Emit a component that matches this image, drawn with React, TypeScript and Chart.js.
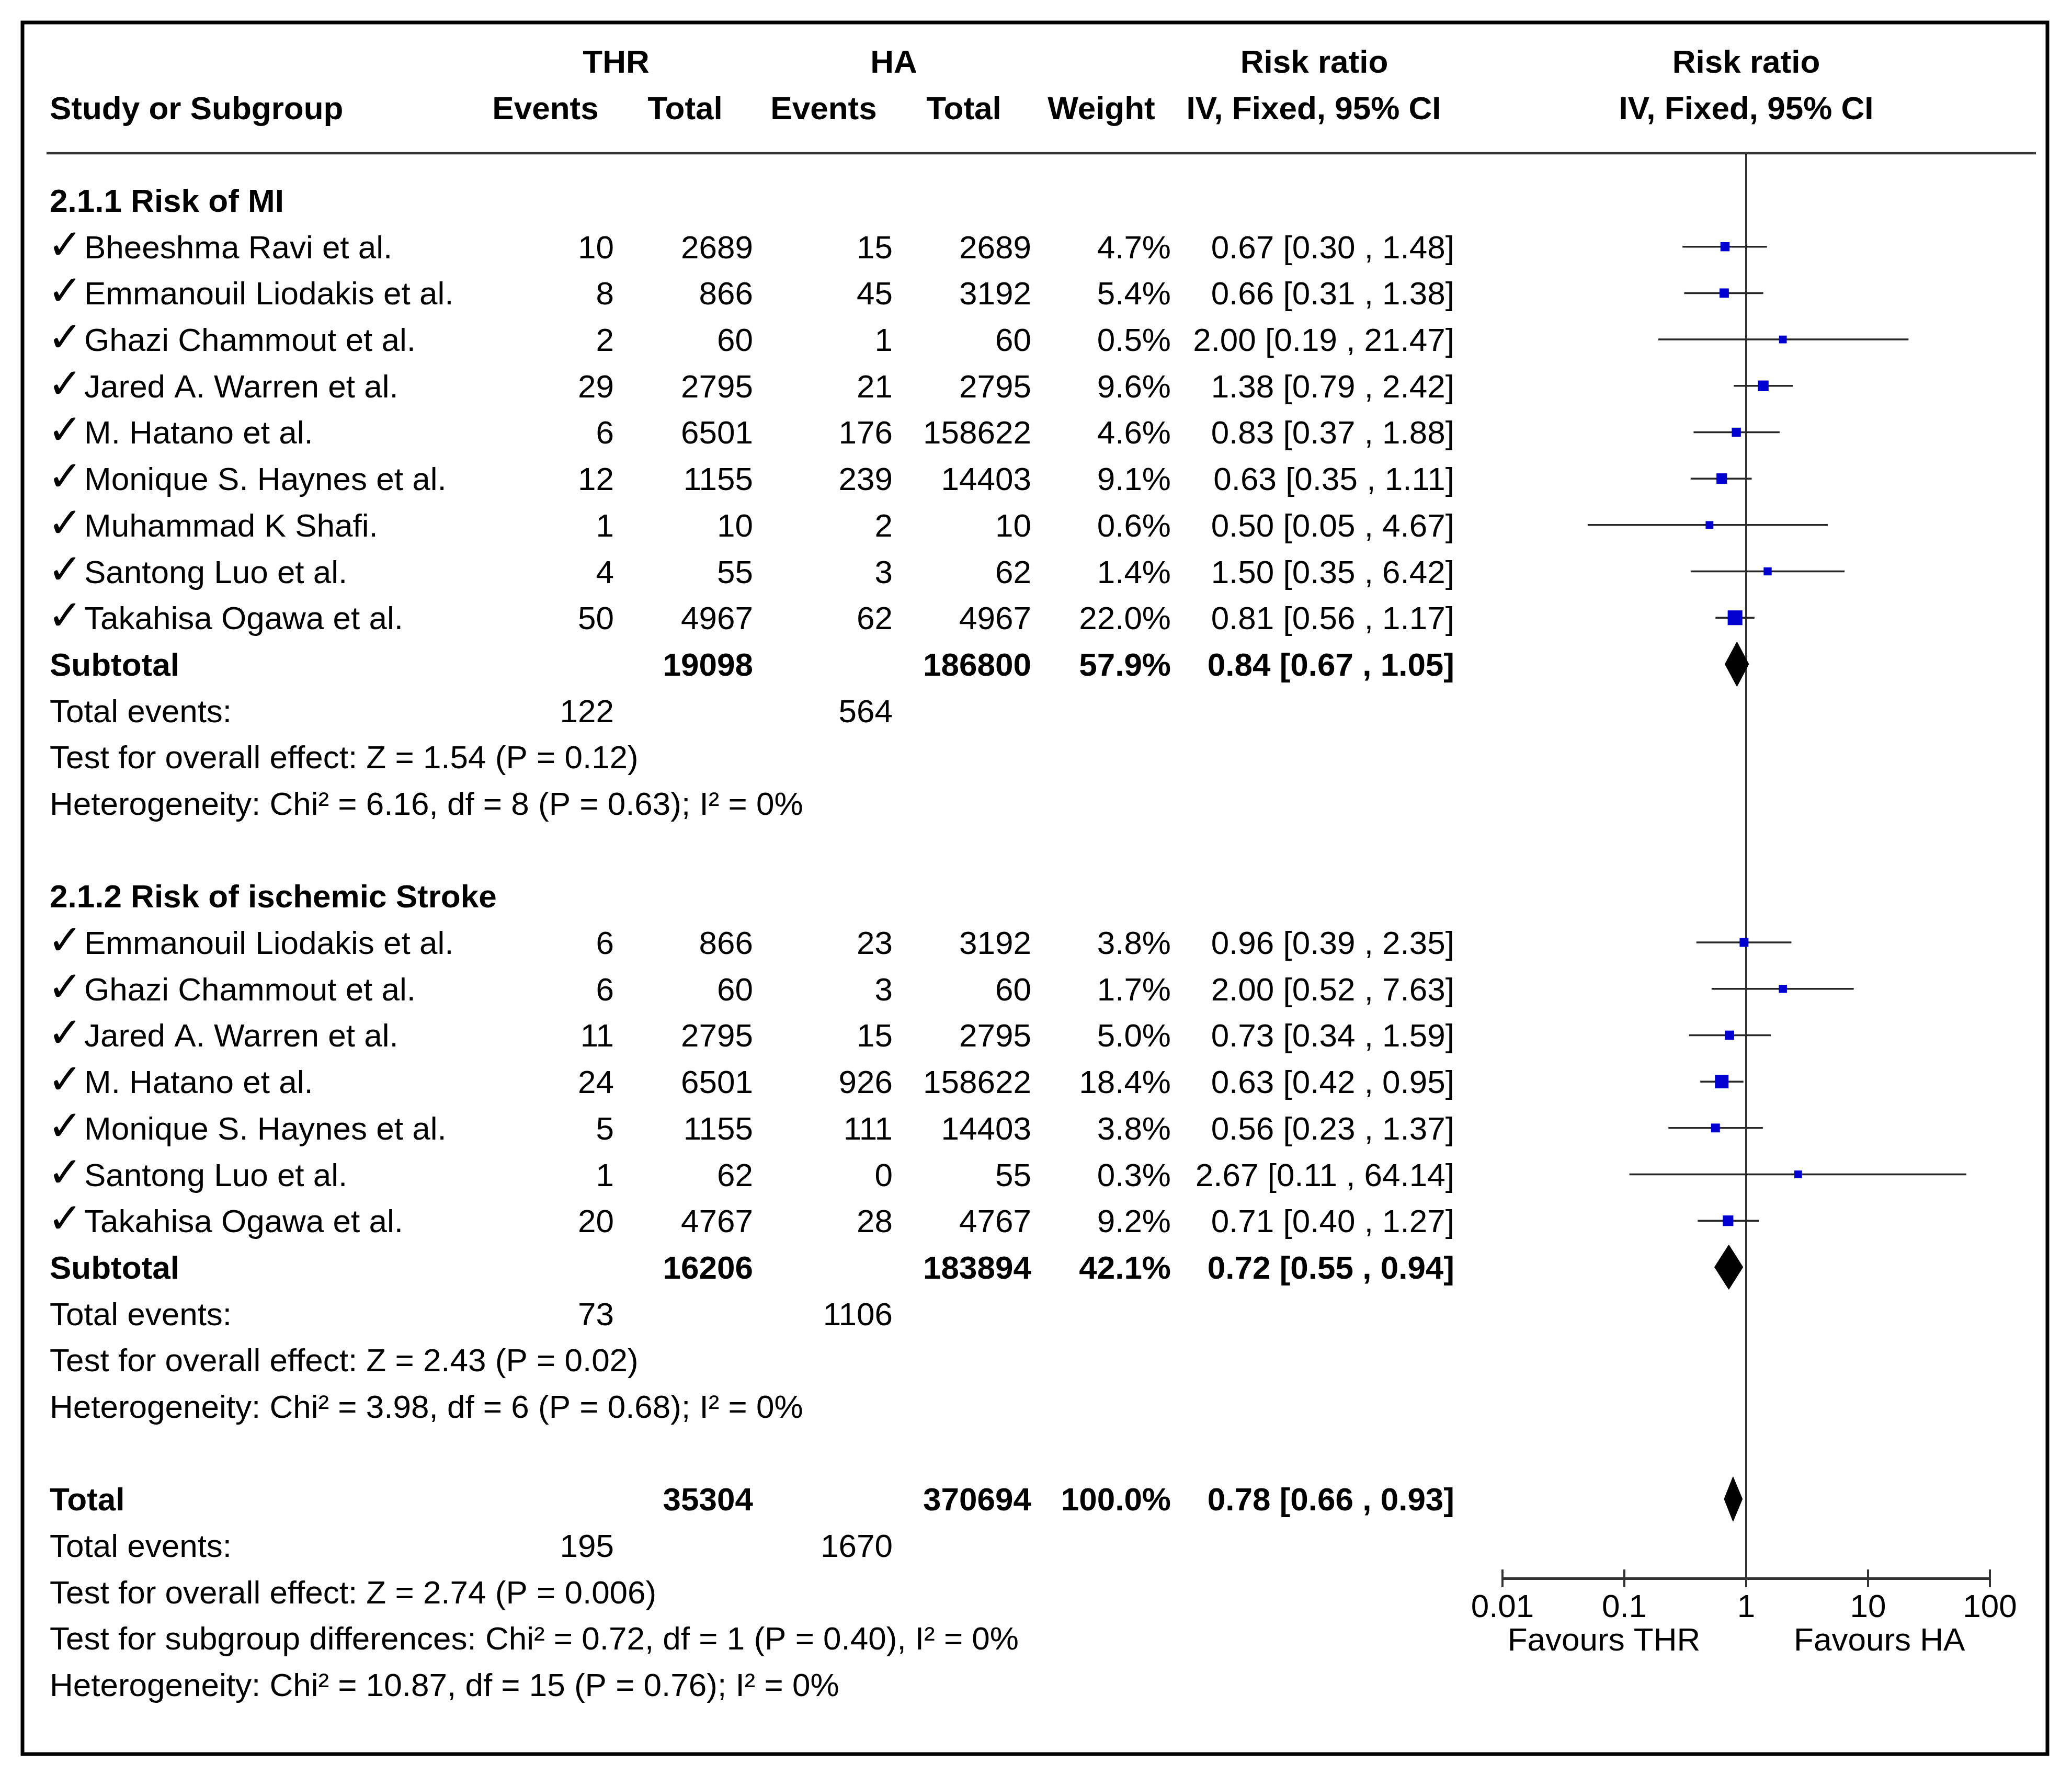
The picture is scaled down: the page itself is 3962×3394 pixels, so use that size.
import React, { useEffect, useRef } from 'react';
import { Chart, registerables } from 'chart.js';

Chart.register(...registerables);

// ---------- data ----------
const miStudies = [
  'Bheeshma Ravi et al.',
  'Emmanouil Liodakis et al.',
  'Ghazi Chammout et al.',
  'Jared A. Warren et al.',
  'M. Hatano et al.',
  'Monique S. Haynes et al.',
  'Muhammad K Shafi.',
  'Santong Luo et al.',
  'Takahisa Ogawa et al.',
];
const miThrEvents = [10, 8, 2, 29, 6, 12, 1, 4, 50];
const miThrTotal = [2689, 866, 60, 2795, 6501, 1155, 10, 55, 4967];
const miHaEvents = [15, 45, 1, 21, 176, 239, 2, 3, 62];
const miHaTotal = [2689, 3192, 60, 2795, 158622, 14403, 10, 62, 4967];
const miWeight = [4.7, 5.4, 0.5, 9.6, 4.6, 9.1, 0.6, 1.4, 22.0];
const miRR = [0.67, 0.66, 2.0, 1.38, 0.83, 0.63, 0.5, 1.5, 0.81];
const miLo = [0.3, 0.31, 0.19, 0.79, 0.37, 0.35, 0.05, 0.35, 0.56];
const miHi = [1.48, 1.38, 21.47, 2.42, 1.88, 1.11, 4.67, 6.42, 1.17];

const stStudies = [
  'Emmanouil Liodakis et al.',
  'Ghazi Chammout et al.',
  'Jared A. Warren et al.',
  'M. Hatano et al.',
  'Monique S. Haynes et al.',
  'Santong Luo et al.',
  'Takahisa Ogawa et al.',
];
const stThrEvents = [6, 6, 11, 24, 5, 1, 20];
const stThrTotal = [866, 60, 2795, 6501, 1155, 62, 4767];
const stHaEvents = [23, 3, 15, 926, 111, 0, 28];
const stHaTotal = [3192, 60, 2795, 158622, 14403, 55, 4767];
const stWeight = [3.8, 1.7, 5.0, 18.4, 3.8, 0.3, 9.2];
const stRR = [0.96, 2.0, 0.73, 0.63, 0.56, 2.67, 0.71];
const stLo = [0.39, 0.52, 0.34, 0.42, 0.23, 0.11, 0.4];
const stHi = [2.35, 7.63, 1.59, 0.95, 1.37, 64.14, 1.27];

// pooled: [MI subtotal, stroke subtotal, total]
const pooledLabel = ['Subtotal', 'Subtotal', 'Total'];
const pooledThrTotal = [19098, 16206, 35304];
const pooledHaTotal = [186800, 183894, 370694];
const pooledWeight = ['57.9%', '42.1%', '100.0%'];
const pooledRR = [0.84, 0.72, 0.78];
const pooledLo = [0.67, 0.55, 0.66];
const pooledHi = [1.05, 0.94, 0.93];
const pooledThrEvents = [122, 73, 195];
const pooledHaEvents = [564, 1106, 1670];
const overallEffect = [
  'Test for overall effect: Z = 1.54 (P = 0.12)',
  'Test for overall effect: Z = 2.43 (P = 0.02)',
  'Test for overall effect: Z = 2.74 (P = 0.006)',
];
const heterogeneity = [
  'Heterogeneity: Chi² = 6.16, df = 8 (P = 0.63); I² = 0%',
  'Heterogeneity: Chi² = 3.98, df = 6 (P = 0.68); I² = 0%',
  'Heterogeneity: Chi² = 10.87, df = 15 (P = 0.76); I² = 0%',
];
const subgroupTest = 'Test for subgroup differences: Chi² = 0.72, df = 1 (P = 0.40), I² = 0%';
const groupTitles = ['2.1.1 Risk of MI', '2.1.2 Risk of ischemic Stroke'];

const axisTicks = [0.01, 0.1, 1, 10, 100];
const favoursLabels = ['Favours THR', 'Favours HA'];
const favoursAt = [0.068, 12.4];

// ---------- layout ----------
const W = 3962;
const H = 3394;
const FONT = '"Liberation Sans", Arial, Helvetica, sans-serif';
const FS = 62;
const COL_RIGHT = [1174, 1440, 1707, 1972, 2239, 2781];
const LABEL_X = 95;
const NAME_X = 161;

const fmtCI = (rr: number, lo: number, hi: number) =>
  `${rr.toFixed(2)} [${lo.toFixed(2)} , ${hi.toFixed(2)}]`;

type StudyRow = {
  name: string; te: number; tt: number; he: number; ht: number;
  w: number; rr: number; lo: number; hi: number; row: number;
};

function buildGroup(
  names: string[], te: number[], tt: number[], he: number[], ht: number[],
  w: number[], rr: number[], lo: number[], hi: number[], start: number
): StudyRow[] {
  return names.map((name, i) => ({
    name, te: te[i], tt: tt[i], he: he[i], ht: ht[i], w: w[i],
    rr: rr[i], lo: lo[i], hi: hi[i], row: start + 1 + i,
  }));
}

const miStart = 0;
const miRows = buildGroup(miStudies, miThrEvents, miThrTotal, miHaEvents, miHaTotal, miWeight, miRR, miLo, miHi, miStart);
const miSub = miStart + miStudies.length + 1;
const stStart = miSub + 5;
const stRows = buildGroup(stStudies, stThrEvents, stThrTotal, stHaEvents, stHaTotal, stWeight, stRR, stLo, stHi, stStart);
const stSub = stStart + stStudies.length + 1;
const totRow = stSub + 5;
const pooledRows = [miSub, stSub, totRow];
const allStudies = [...miRows, ...stRows];

const Y_MIN = -1.015;
const Y_MAX = 29.71;
const DIAMOND_HALF = 0.48;

export default function App() {
  const canvasRef = useRef<HTMLCanvasElement | null>(null);

  useEffect(() => {
    document.body.style.margin = '0';
    const canvas = canvasRef.current;
    if (!canvas) return;

    const tablePlugin = {
      id: 'forestTable',
      afterDraw(chart: any) {
        const ctx = chart.ctx as CanvasRenderingContext2D;
        const xs = chart.scales.x;
        const ys = chart.scales.y;
        const area = chart.chartArea;
        const rowY = (r: number) => ys.getPixelForValue(r) + 22;

        const text = (s: string, x: number, r: number, align: CanvasTextAlign, bold = false) => {
          ctx.font = `${bold ? 'bold ' : ''}${FS}px ${FONT}`;
          ctx.textAlign = align;
          ctx.textBaseline = 'alphabetic';
          ctx.fillStyle = '#000';
          ctx.fillText(s, x, rowY(r));
        };

        ctx.save();
        // outer frame
        ctx.strokeStyle = '#000';
        ctx.lineWidth = 7;
        ctx.strokeRect(43, 43, 3915 - 43, 3354 - 43);

        // header rule
        ctx.strokeStyle = '#3a3a3a';
        ctx.lineWidth = 4.5;
        ctx.beginPath();
        ctx.moveTo(89, area.top);
        ctx.lineTo(3893, area.top);
        ctx.stroke();

        // upper half of axis ticks
        ctx.strokeStyle = '#333';
        ctx.lineWidth = 4;
        axisTicks.forEach((v) => {
          const px = xs.getPixelForValue(v);
          ctx.beginPath();
          ctx.moveTo(px, area.bottom - 17);
          ctx.lineTo(px, area.bottom);
          ctx.stroke();
        });

        // header
        text('THR', 1178, -3, 'center', true);
        text('HA', 1709, -3, 'center', true);
        text('Risk ratio', 2513, -3, 'center', true);
        text('Risk ratio', xs.getPixelForValue(1), -3, 'center', true);
        text('Study or Subgroup', LABEL_X, -2, 'left', true);
        text('Events', 1043, -2, 'center', true);
        text('Total', 1310, -2, 'center', true);
        text('Events', 1575, -2, 'center', true);
        text('Total', 1843, -2, 'center', true);
        text('Weight', 2106, -2, 'center', true);
        text('IV, Fixed, 95% CI', 2512, -2, 'center', true);
        text('IV, Fixed, 95% CI', xs.getPixelForValue(1), -2, 'center', true);

        // groups
        text(groupTitles[0], LABEL_X, miStart, 'left', true);
        text(groupTitles[1], LABEL_X, stStart, 'left', true);

        allStudies.forEach((s) => {
          ctx.font = `80px "DejaVu Sans", ${FONT}`;
          ctx.textAlign = 'left';
          ctx.fillStyle = '#000';
          ctx.fillText('✓', LABEL_X - 4, rowY(s.row) + 1);
          text(s.name, NAME_X, s.row, 'left');
          text(String(s.te), COL_RIGHT[0], s.row, 'right');
          text(String(s.tt), COL_RIGHT[1], s.row, 'right');
          text(String(s.he), COL_RIGHT[2], s.row, 'right');
          text(String(s.ht), COL_RIGHT[3], s.row, 'right');
          text(`${s.w.toFixed(1)}%`, COL_RIGHT[4], s.row, 'right');
          text(fmtCI(s.rr, s.lo, s.hi), COL_RIGHT[5], s.row, 'right');
        });

        pooledRows.forEach((r, i) => {
          text(pooledLabel[i], LABEL_X, r, 'left', true);
          text(String(pooledThrTotal[i]), COL_RIGHT[1], r, 'right', true);
          text(String(pooledHaTotal[i]), COL_RIGHT[3], r, 'right', true);
          text(pooledWeight[i], COL_RIGHT[4], r, 'right', true);
          text(fmtCI(pooledRR[i], pooledLo[i], pooledHi[i]), COL_RIGHT[5], r, 'right', true);
          text('Total events:', LABEL_X, r + 1, 'left');
          text(String(pooledThrEvents[i]), COL_RIGHT[0], r + 1, 'right');
          text(String(pooledHaEvents[i]), COL_RIGHT[2], r + 1, 'right');
          text(overallEffect[i], LABEL_X, r + 2, 'left');
          if (i === 2) {
            text(subgroupTest, LABEL_X, r + 3, 'left');
            text(heterogeneity[i], LABEL_X, r + 4, 'left');
          } else {
            text(heterogeneity[i], LABEL_X, r + 3, 'left');
          }
        });

        // favours labels
        ctx.font = `${FS}px ${FONT}`;
        ctx.textAlign = 'center';
        ctx.textBaseline = 'alphabetic';
        ctx.fillStyle = '#000';
        favoursLabels.forEach((l, i) => {
          ctx.fillText(l, xs.getPixelForValue(favoursAt[i]), area.bottom + 138);
        });
        ctx.restore();
      },
    };

    const squares = {
      label: 'studies',
      data: allStudies.map((s) => ({ x: s.rr, y: s.row })),
      pointStyle: 'rect',
      pointRadius: allStudies.map((s) => (14.5 + 0.62 * s.w) / Math.SQRT2),
      backgroundColor: '#0000d0',
      borderWidth: 0,
      showLine: false,
    };

    const diamonds = pooledRows.map((r, i) => ({
      label: `pooled ${i}`,
      data: [
        { x: pooledLo[i], y: r },
        { x: pooledRR[i], y: r - DIAMOND_HALF },
        { x: pooledHi[i], y: r },
        { x: pooledRR[i], y: r + DIAMOND_HALF },
        { x: pooledLo[i], y: r },
      ],
      showLine: true,
      fill: 'shape',
      backgroundColor: '#000',
      borderColor: '#000',
      borderWidth: 1,
      pointRadius: 0,
      tension: 0,
    }));

    const ciLines = allStudies.map((s, i) => ({
      label: `ci ${i}`,
      data: [
        { x: s.lo, y: s.row },
        { x: s.hi, y: s.row },
      ],
      showLine: true,
      borderColor: '#262626',
      borderWidth: 3.5,
      pointRadius: 0,
      fill: false,
    }));

    const noEffect = {
      label: 'no effect',
      data: [
        { x: 1, y: Y_MIN },
        { x: 1, y: Y_MAX },
      ],
      showLine: true,
      borderColor: '#333',
      borderWidth: 4,
      pointRadius: 0,
      fill: false,
    };

    const chart = new Chart(canvas, {
      type: 'scatter',
      data: { datasets: [squares, ...diamonds, ...ciLines, noEffect] as any },
      options: {
        animation: false,
        responsive: true,
        maintainAspectRatio: false,
        events: [],
        layout: { padding: { left: 2873, right: W - 3805, top: 293, bottom: 176 } },
        plugins: {
          legend: { display: false },
          tooltip: { enabled: false },
          title: { display: false },
        },
        scales: {
          x: {
            type: 'logarithmic',
            min: 0.01,
            max: 100,
            position: 'bottom',
            afterBuildTicks: (s: any) => {
              s.ticks = axisTicks.map((v) => ({ value: v }));
            },
            afterFit: (s: any) => {
              s.height = 200;
            },
            ticks: {
              callback: (v: any) => String(v),
              font: { size: FS, family: FONT },
              color: '#000',
              padding: 3,
              autoSkip: false,
              maxRotation: 0,
              minRotation: 0,
            },
            grid: {
              display: true,
              drawOnChartArea: false,
              drawTicks: true,
              tickLength: 17,
              lineWidth: 4,
              color: '#333',
            },
            border: { display: true, width: 5, color: '#333' },
          },
          y: {
            type: 'linear',
            min: Y_MIN,
            max: Y_MAX,
            reverse: true,
            display: false,
          },
        },
      } as any,
      plugins: [tablePlugin],
    });

    return () => chart.destroy();
  }, []);

  return (
    <div style={{ position: 'relative', width: W, height: H, background: '#fff' }}>
      <canvas ref={canvasRef} style={{ display: 'block' }} />
    </div>
  );
}
